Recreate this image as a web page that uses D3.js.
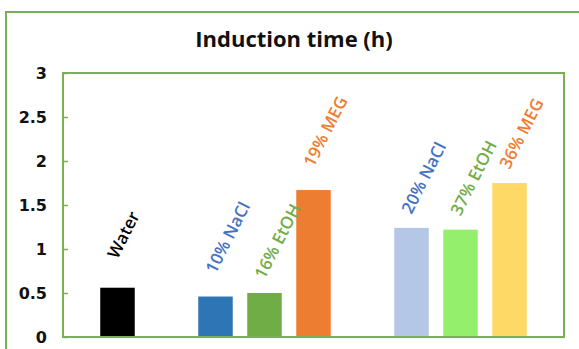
<!DOCTYPE html>
<html>
<head>
<meta charset="utf-8">
<script src="https://cdn.jsdelivr.net/npm/d3@7"></script>
<style>
  html, body { margin: 0; padding: 0; background: #fff; overflow: hidden; }
  svg { display: block; }
</style>
</head>
<body>
<svg id="chart" width="579" height="349"></svg>
<script>
// Induction time (h) for each solution, in three groups
const groups = [
  ["Water"],
  ["10% NaCl", "16% EtOH", "19% MEG"],
  ["20% NaCl", "37% EtOH", "36% MEG"]
];
const categories = groups.flat();
const inductionTime = [0.56, 0.46, 0.50, 1.67, 1.24, 1.22, 1.75];
const barColors = ["#000000", "#2E75B6", "#70AD47", "#ED7D31", "#B4C7E7", "#94F06C", "#FFD966"];
const labelColors = ["#000000", "#4472C4", "#70AD47", "#ED7D31", "#4472C4", "#70AD47", "#ED7D31"];
const yTicks = [0, 0.5, 1, 1.5, 2, 2.5, 3];
const yTickLabels = ["0", "0.5", "1", "1.5", "2", "2.5", "3"];
// extra space (px) between each bar and its rotated label
const labelLift = [28, 22, 13, 22, 13, 13, 13];

const svg = d3.select("#chart");
const frame = "#78B055";

// band domain: categories with an empty slot between groups
const slots = [];
groups.forEach((g, i) => {
  if (i > 0) slots.push("__gap" + i);
  g.forEach(c => slots.push(c));
});

const plot = { left: 63, right: 564, top: 73, bottom: 337 };

const x = d3.scaleBand()
  .domain(slots)
  .range([plot.left, plot.right])
  .paddingInner(0.296)
  .paddingOuter(0.76);

const y = d3.scaleLinear()
  .domain([0, 3])
  .range([plot.bottom, plot.top]);

// outer chart frame
svg.append("rect")
  .attr("x", 6).attr("y", 12)
  .attr("width", 640).attr("height", 400)
  .attr("fill", "none")
  .attr("stroke", frame)
  .attr("stroke-width", 2);

// title
svg.append("text")
  .attr("x", 294).attr("y", 46.5)
  .attr("text-anchor", "middle")
  .attr("font-family", "'Open Sans', sans-serif")
  .attr("font-weight", 700)
  .attr("font-size", 22)
  .attr("fill", "#111")
  .text("Induction time (h)");

// bars
const data = categories.map((c, i) => ({ c, v: inductionTime[i], i }));

svg.append("g").selectAll("rect")
  .data(data)
  .join("rect")
  .attr("x", d => x(d.c))
  .attr("width", x.bandwidth())
  .attr("y", d => y(d.v))
  .attr("height", d => y(0) - y(d.v))
  .attr("fill", d => barColors[d.i]);

// y axis with inward ticks
const yAxis = d3.axisLeft(y)
  .tickValues(yTicks)
  .tickFormat((d, i) => yTickLabels[i])
  .tickSize(-5)
  .tickPadding(16);

const gy = svg.append("g")
  .attr("transform", `translate(${plot.left},0)`)
  .call(yAxis);
gy.select(".domain").remove();
gy.selectAll(".tick line").attr("stroke", frame).attr("stroke-width", 1.5);
gy.selectAll(".tick text")
  .attr("font-family", "'DejaVu Sans', sans-serif")
  .attr("font-weight", 700)
  .attr("font-size", 16)
  .attr("fill", "#111");

// plot area frame (also serves as the axis lines)
svg.append("rect")
  .attr("x", plot.left).attr("y", plot.top)
  .attr("width", plot.right - plot.left)
  .attr("height", plot.bottom - plot.top)
  .attr("fill", "none")
  .attr("stroke", frame)
  .attr("stroke-width", 2);

// rotated category labels above the bars
svg.append("g").selectAll("text")
  .data(data)
  .join("text")
  .attr("transform", d => {
    const cx = x(d.c) + x.bandwidth() / 2;
    const cy = y(d.v) - labelLift[d.i];
    return `translate(${cx},${cy}) rotate(-63)`;
  })
  .attr("font-family", "'Open Sans', sans-serif")
  .attr("font-weight", 600)
  .attr("font-size", 17)
  .attr("fill", d => labelColors[d.i])
  .text(d => d.c);
</script>
</body>
</html>
